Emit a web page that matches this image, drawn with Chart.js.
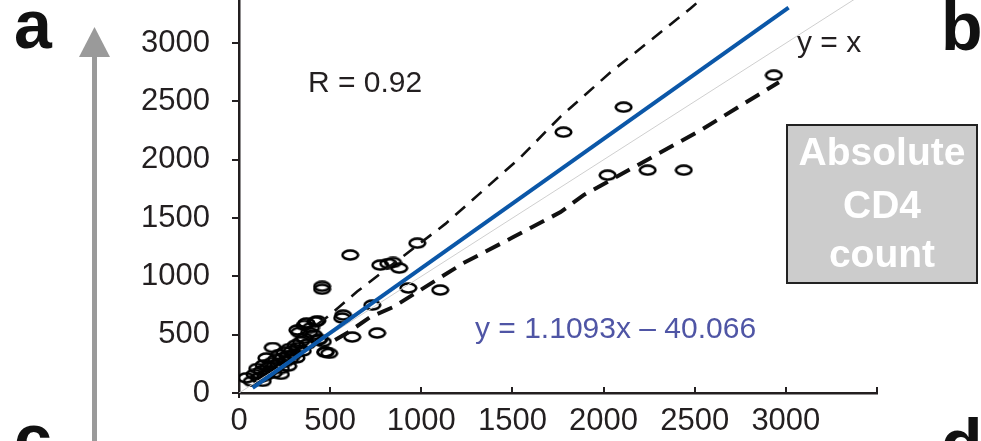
<!DOCTYPE html>
<html>
<head>
<meta charset="utf-8">
<script src="https://cdn.jsdelivr.net/npm/chart.js@4.4.1/dist/chart.umd.min.js"></script>
<style>
  html, body { margin: 0; padding: 0; background: #fff; }
  canvas { display: block; }
</style>
</head>
<body>
<canvas id="chart-cd4" width="981" height="441"></canvas>
<script>
const xTicks = [0, 500, 1000, 1500, 2000, 2500, 3000, 3500];
const xTickLabels = ["0", "500", "1000", "1500", "2000", "2500", "3000", ""];
const yTicks = [0, 500, 1000, 1500, 2000, 2500, 3000];
const yTickLabels = ["0", "500", "1000", "1500", "2000", "2500", "3000"];

// measured counts (x = reference, y = test)
const cd4X = [40, 70, 85, 100, 110, 125, 135, 145, 150, 160, 170, 180, 185, 195, 205, 215, 220, 230, 240, 250,
  255, 265, 275, 280, 290, 300, 310, 315, 325, 330, 340, 350, 360, 370, 375, 385, 395, 410, 420, 430,
  440, 460, 475, 495, 320, 360, 230, 190, 130, 270,
  434, 473, 456, 456, 566, 571, 610, 621, 731, 758, 775, 819, 845, 879, 929, 978, 1104,
  1780, 2022, 2110, 2242, 2440, 2934];
const cd4Y = [130, 100, 160, 210, 130, 190, 240, 150, 300, 220, 190, 260, 390, 230, 290, 250, 330, 210, 300, 350,
  270, 320, 380, 290, 360, 330, 410, 300, 390, 520, 440, 360, 470, 600, 420, 520, 560, 500, 610, 620,
  460, 440, 350, 340, 540, 580, 160, 170, 100, 230,
  454, 351, 890, 915, 643, 668, 1183, 480, 754, 514, 1097, 1110, 1120, 1071, 900, 1285, 883,
  2237, 1868, 2451, 1911, 1911, 2725];

// confidence bounds
const upperX = [430, 484, 648, 1132, 1544, 1764, 2038, 2478, 2530];
const upperY = [590, 651, 870, 1450, 2020, 2370, 2750, 3299, 3370];
const lowerX = [527, 593, 720, 846, 1231, 1505, 1764, 1890, 2533, 2962];
const lowerY = [454, 514, 651, 737, 1114, 1337, 1551, 1697, 2254, 2665];

const fitSlope = 1.1093;
const fitIntercept = -40.066;
const fitX = [75, 3015];
const identityX = [0, 3500];

const ink = "#231f20";
const font = "'Liberation Sans', Arial, Helvetica, sans-serif";

const toPoints = (xs, ys) => xs.map((x, i) => ({ x: x, y: ys[i] }));

// open ellipse marker
const marker = document.createElement("canvas");
marker.width = 19;
marker.height = 12;
const mctx = marker.getContext("2d");
mctx.strokeStyle = "#000";
mctx.lineWidth = 2.6;
mctx.beginPath();
mctx.ellipse(9.5, 6, 7.8, 4.5, 0, 0, Math.PI * 2);
mctx.stroke();

const overlay = {
  id: "overlay",
  afterDraw(chart) {
    const c = chart.ctx;
    const xs = chart.scales.x;
    const area = chart.chartArea;
    c.save();
    // x tick marks point into the plot
    c.strokeStyle = ink;
    c.lineWidth = 2;
    xTicks.forEach((v) => {
      if (v === 0) return;
      const px = Math.round(xs.getPixelForValue(v));
      c.beginPath();
      c.moveTo(px, area.bottom);
      c.lineTo(px, area.bottom - 6);
      c.stroke();
    });
    c.beginPath();
    c.moveTo(area.left, area.bottom);
    c.lineTo(area.left, area.bottom + 5);
    c.stroke();

    c.fillStyle = ink;
    c.textBaseline = "alphabetic";
    c.font = "30px " + font;
    c.fillText("R = 0.92", 308, 92);
    c.fillText("y = x", 797, 52);
    c.fillStyle = "#4f55a5";
    c.fillText("y = 1.1093x \u2013 40.066", 475, 338);

    // panel letters
    c.fillStyle = "#111";
    c.font = "bold 68px " + font;
    c.fillText("a", 14, 48);
    c.fillText("b", 941, 50);
    c.fillText("c", 14, 462);
    c.fillText("d", 941, 467);

    // grey arrow
    c.fillStyle = "#9a9a9a";
    c.fillRect(92, 56, 5, 441 - 56);
    c.beginPath();
    c.moveTo(79, 57);
    c.lineTo(110, 57);
    c.lineTo(94.5, 27);
    c.closePath();
    c.fill();

    // label box
    c.fillStyle = "#cccccc";
    c.fillRect(787, 125, 190, 158);
    c.strokeStyle = "#222";
    c.lineWidth = 2;
    c.strokeRect(787, 125, 190, 158);
    c.fillStyle = "#fff";
    c.font = "bold 39px " + font;
    c.textAlign = "center";
    c.fillText("Absolute", 882, 165);
    c.fillText("CD4", 882, 218);
    c.fillText("count", 882, 267);
    c.restore();
  },
};

new Chart(document.getElementById("chart-cd4"), {
  type: "scatter",
  data: {
    datasets: [
      {
        label: "fit",
        data: fitX.map((x) => ({ x: x, y: fitSlope * x + fitIntercept })),
        showLine: true,
        borderColor: "#0b57a8",
        borderWidth: 4,
        pointRadius: 0,
        order: 0,
      },
      {
        label: "upper",
        data: toPoints(upperX, upperY),
        showLine: true,
        borderColor: "#111",
        borderWidth: 2.6,
        borderDash: [13, 9],
        pointRadius: 0,
        order: 1,
      },
      {
        label: "lower",
        data: toPoints(lowerX, lowerY),
        showLine: true,
        borderColor: "#111",
        borderWidth: 4,
        borderDash: [16, 9],
        pointRadius: 0,
        order: 1,
      },
      {
        label: "y = x",
        data: identityX.map((x) => ({ x: x, y: x })),
        showLine: true,
        borderColor: "#cfcfcf",
        borderWidth: 1,
        pointRadius: 0,
        order: 2,
      },
      {
        label: "CD4",
        data: toPoints(cd4X, cd4Y),
        pointStyle: marker,
        pointRadius: 8,
        order: 3,
      },
    ],
  },
  options: {
    responsive: false,
    animation: false,
    devicePixelRatio: 1,
    layout: { autoPadding: false, padding: { left: 0, right: 104, top: 0, bottom: 0 } },
    plugins: { legend: { display: false }, tooltip: { enabled: false } },
    scales: {
      x: {
        type: "linear",
        min: 0,
        max: 3500,
        afterFit: (scale) => {
          scale.height = 48;
          scale.paddingLeft = 0;
          scale.paddingRight = 0;
        },
        afterBuildTicks: (scale) => { scale.ticks = xTicks.map((v) => ({ value: v })); },
        grid: { drawOnChartArea: false, drawTicks: false },
        border: { color: ink, width: 2.5 },
        ticks: {
          color: ink,
          font: { family: font, size: 31 },
          padding: 10,
          maxRotation: 0,
          autoSkip: false,
          callback: (v, i) => xTickLabels[i],
        },
      },
      y: {
        type: "linear",
        min: 0,
        max: 3370,
        afterFit: (scale) => {
          scale.width = 239;
          scale.paddingTop = 0;
          scale.paddingBottom = 0;
        },
        afterBuildTicks: (scale) => { scale.ticks = yTicks.map((v) => ({ value: v })); },
        grid: { drawOnChartArea: false, drawTicks: true, tickLength: 7, color: ink, lineWidth: 2 },
        border: { color: ink, width: 2.5 },
        ticks: {
          color: ink,
          font: { family: font, size: 31 },
          padding: 22,
          autoSkip: false,
          callback: (v, i) => yTickLabels[i],
        },
      },
    },
  },
  plugins: [overlay],
});
</script>
</body>
</html>
